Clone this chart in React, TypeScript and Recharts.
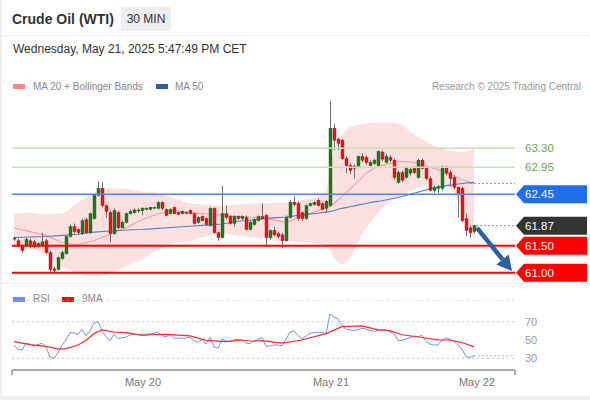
import React from 'react';
import { ComposedChart, Bar, Line, Area, XAxis, YAxis, ReferenceLine, CartesianGrid } from 'recharts';

// ---- Candles (30 min bars) ----
const opens = [
  61.63, 61.59, 61.50, 61.50, 61.59, 61.57, 61.50, 61.50, 61.59, 61.37,
  61.07, 61.06, 61.26, 61.35, 61.67, 61.85, 61.80, 61.72, 61.98, 61.74,
  62.00, 62.43, 62.56, 62.24, 62.11, 61.72, 62.11, 61.83, 61.93, 62.09,
  62.11, 62.15, 62.15, 62.18, 62.17, 62.20, 62.19, 62.30, 62.17, 62.09,
  62.21, 62.11, 62.09, 62.11, 62.15, 62.09, 61.93, 62.04, 62.00, 61.87,
  62.19, 61.74, 61.65, 62.09, 62.04, 61.91, 62.04, 62.00, 62.02, 61.80,
  61.89, 61.96, 62.04, 62.06, 61.65, 61.78, 61.72, 61.70, 61.59, 62.02,
  62.30, 62.28, 62.11, 62.00, 62.24, 62.26, 62.34, 62.28, 62.19, 62.24,
  63.67, 63.47, 63.45, 63.11, 62.98, 62.97, 62.97, 63.15, 63.13, 62.98,
  63.02, 62.98, 63.23, 63.04, 63.13, 63.08, 62.67, 62.85, 62.76, 62.84,
  62.93, 62.76, 63.08, 62.93, 62.74, 62.52, 62.56, 62.56, 62.95, 62.85,
  62.76, 62.58, 62.56, 62.00, 61.83, 61.76,
];
const closes = [
  61.64, 61.50, 61.41, 61.61, 61.52, 61.48, 61.54, 61.57, 61.37, 61.06,
  61.04, 61.28, 61.37, 61.67, 61.85, 61.76, 61.74, 61.96, 61.74, 62.09,
  62.43, 62.56, 62.24, 62.13, 61.72, 62.15, 61.83, 61.93, 62.09, 62.13,
  62.16, 62.16, 62.19, 62.19, 62.21, 62.21, 62.30, 62.19, 62.06, 62.17,
  62.09, 62.08, 62.13, 62.10, 62.09, 61.91, 62.02, 61.96, 61.89, 62.19,
  61.74, 61.65, 62.09, 62.02, 61.91, 62.04, 62.00, 62.04, 61.80, 61.93,
  61.98, 62.04, 62.00, 61.65, 61.78, 61.70, 61.67, 61.59, 62.02, 62.30,
  62.26, 62.00, 62.00, 62.24, 62.28, 62.30, 62.24, 62.17, 62.32, 63.67,
  63.45, 63.39, 63.11, 62.98, 62.89, 62.93, 63.15, 63.08, 63.04, 63.04,
  63.08, 63.24, 63.10, 63.15, 63.08, 62.76, 62.85, 62.71, 62.93, 62.91,
  62.85, 63.08, 62.93, 62.74, 62.52, 62.58, 62.59, 62.95, 62.84, 62.74,
  62.58, 62.47, 61.96, 61.78, 61.74, 61.87,
];
const highs = [
  61.67, 61.63, 61.52, 61.65, 61.63, 61.61, 61.56, 61.74, 61.63, 61.41,
  61.11, 61.30, 61.41, 61.69, 61.89, 61.91, 61.82, 62.00, 62.02, 62.11,
  62.45, 62.69, 62.67, 62.26, 62.15, 62.19, 62.15, 61.96, 62.11, 62.17,
  62.19, 62.19, 62.21, 62.21, 62.22, 62.22, 62.32, 62.32, 62.19, 62.19,
  62.22, 62.13, 62.15, 62.13, 62.17, 62.11, 62.04, 62.06, 62.02, 62.21,
  62.21, 61.76, 62.61, 62.24, 62.06, 62.06, 62.06, 62.06, 62.06, 61.96,
  62.00, 62.06, 62.28, 62.09, 61.80, 61.85, 61.76, 61.74, 62.06, 62.34,
  62.41, 62.32, 62.13, 62.26, 62.30, 62.32, 62.37, 62.30, 62.35, 64.17,
  63.75, 63.50, 63.47, 63.15, 63.02, 63.00, 63.17, 63.21, 63.17, 63.08,
  63.11, 63.26, 63.26, 63.19, 63.17, 63.11, 62.89, 62.89, 62.97, 62.95,
  62.97, 63.11, 63.11, 62.97, 62.78, 62.61, 62.63, 62.98, 62.98, 62.89,
  62.80, 62.59, 62.59, 62.09, 61.87, 61.89,
];
const lows = [
  61.59, 61.48, 61.37, 61.48, 61.45, 61.45, 61.46, 61.48, 61.35, 61.02,
  61.00, 61.04, 61.24, 61.33, 61.65, 61.72, 61.70, 61.70, 61.72, 61.72,
  61.98, 62.41, 62.21, 62.02, 61.56, 61.70, 61.80, 61.82, 61.91, 62.08,
  62.09, 62.11, 62.06, 62.15, 62.15, 62.19, 62.17, 62.15, 62.04, 62.08,
  62.08, 62.06, 62.08, 62.09, 62.08, 61.89, 61.91, 61.95, 61.87, 61.85,
  61.72, 61.59, 61.63, 61.98, 61.89, 61.85, 61.98, 61.98, 61.78, 61.78,
  61.87, 61.95, 61.98, 61.50, 61.61, 61.67, 61.63, 61.46, 61.57, 62.00,
  62.22, 61.96, 61.96, 61.98, 62.22, 62.24, 62.22, 62.15, 62.11, 62.22,
  63.26, 63.26, 63.08, 62.84, 62.82, 62.74, 62.95, 63.04, 63.00, 62.97,
  63.00, 62.97, 63.06, 63.02, 63.04, 62.72, 62.65, 62.67, 62.74, 62.80,
  62.82, 62.74, 62.91, 62.71, 62.50, 62.48, 62.47, 62.52, 62.80, 62.59,
  62.54, 62.02, 61.93, 61.67, 61.65, 61.72,
];

// ---- Indicators read at selected bars ----
const indIdx = [0, 4, 8, 12, 16, 20, 24, 28, 32, 36, 40, 44, 48, 52, 56, 60, 64, 68, 72, 76, 78, 79, 80, 82, 84, 86, 88, 90, 92, 96, 100, 104, 108, 112, 115];
const ma20 = [61.83, 61.76, 61.69, 61.56, 61.52, 61.59, 61.71, 61.83, 61.98, 62.09, 62.15, 62.11, 62.09, 62.06, 62.04, 62.02, 61.99, 61.93, 62.04, 62.15, 62.20, 62.23, 62.28, 62.41, 62.55, 62.69, 62.84, 62.93, 62.98, 63.06, 63.04, 62.95, 62.86, 62.72, 62.65];
const ma50 = [61.65, 61.66, 61.67, 61.69, 61.71, 61.75, 61.77, 61.79, 61.80, 61.82, 61.84, 61.86, 61.88, 61.90, 61.95, 61.98, 62.01, 62.03, 62.07, 62.10, 62.12, 62.13, 62.15, 62.19, 62.22, 62.25, 62.28, 62.31, 62.33, 62.39, 62.47, 62.55, 62.61, 62.65, 62.67];
const bbUpper = [62.09, 62.11, 62.08, 62.10, 62.30, 62.48, 62.56, 62.55, 62.50, 62.47, 62.38, 62.28, 62.26, 62.24, 62.26, 62.28, 62.29, 62.30, 62.35, 62.41, 62.52, 62.89, 63.26, 63.54, 63.69, 63.73, 63.76, 63.77, 63.78, 63.76, 63.56, 63.39, 63.27, 63.23, 63.30];
const bbLower = [61.54, 61.46, 61.32, 61.11, 60.99, 60.93, 60.98, 61.12, 61.24, 61.42, 61.55, 61.59, 61.67, 61.72, 61.69, 61.65, 61.62, 61.59, 61.57, 61.54, 61.46, 61.41, 61.28, 61.16, 61.26, 61.57, 61.82, 62.01, 62.19, 62.40, 62.54, 62.63, 62.61, 62.15, 61.59];

const rsi = [
  44, 40, 39, 46.4, 45.5, 43, 45, 46.2, 42.5, 31,
  30, 36, 44, 50, 58, 58, 56, 61.7, 54.7, 60,
  68.7, 70, 59.5, 53.7, 49, 56, 51.5, 52.5, 53, 55.5,
  56.1, 56.2, 56.2, 56.3, 56.7, 57.3, 58.7, 54.7, 53.6, 56,
  51.8, 52.2, 51.9, 52, 53.2, 49, 47.5, 50.5, 45.5, 53,
  42.5, 41, 51, 49, 48.5, 50.2, 50.8, 49.5, 46.5, 46.2,
  49, 50.5, 52.6, 43, 43.5, 44.5, 44.5, 43.6, 51, 58.5,
  60, 55, 51.3, 54, 57.5, 58, 58.6, 58, 56.8, 78.4,
  75, 73, 66, 62, 61, 60.2, 61.2, 62.6, 62, 60.5,
  59.4, 60.5, 61.5, 61, 59, 57, 49.5, 49.5, 51, 52.6,
  54.4, 53.6, 55, 48.5, 45.5, 44.5, 44.5, 50, 52.5, 50.5,
  48.5, 44.3, 40, 31.8, 31, 32.8,
];
const ma9Idx = [0, 4, 7, 9, 11, 13, 16, 18, 20, 22, 25, 28, 32, 35, 38, 44, 48, 53, 57, 60, 62, 67, 72, 78, 82, 87, 91, 94, 97, 102, 106, 109, 112, 115];
const ma9 = [48.2, 45, 43.6, 42.2, 40, 40.5, 44.5, 49.5, 57, 61, 58.7, 58.1, 55, 56, 56.2, 54.5, 49.6, 48.2, 50, 48.6, 49.2, 46.5, 50, 57, 64.5, 65.5, 61, 60.2, 55.7, 52.7, 50.2, 50, 47.2, 42.5];

// ---- Levels and labels ----
const resistances = [63.30, 62.95];
const pivot = 62.45;
const supports = [61.50, 61.00];
const rsiLevels = [30, 50, 70];
const dateTickPos = [32.25, 79.25, 115.75];
const dateTickLabels = ['May 20', 'May 21', 'May 22'];
const arrowFrom = { x: 115.75, y: 61.83 };
const arrowTo = { x: 124.5, y: 61.03 };

const xDomain: [number, number] = [-0.5, 125.25];
const priceDomain: [number, number] = [60.773, 64.285];
const rsiDomain: [number, number] = [17.2, 93.7];

const rows = opens.map((o, i) => ({
  i, o, h: highs[i], l: lows[i], c: closes[i], range: [lows[i], highs[i]],
  rsi: rsi[i], ma9: null as number | null,
}));
ma9Idx.forEach((k, j) => { rows[k].ma9 = ma9[j]; });
const indRows = indIdx.map((k, j) => ({ i: k, ma20: ma20[j], ma50: ma50[j], band: [bbLower[j], bbUpper[j]] }));

const lastClose = closes[closes.length - 1];
const lastMa20 = ma20[ma20.length - 1];
const lastRsi = rsi[rsi.length - 1];
const lastIdx = opens.length - 1;

const Candle = (props: any) => {
  const { x, y, width, height, payload } = props;
  if (!payload || height == null) return null;
  const top = Math.min(y, y + height);
  const h = Math.abs(height);
  const k = h / (payload.h - payload.l || 1);
  const yO = top + (payload.h - payload.o) * k;
  const yC = top + (payload.h - payload.c) * k;
  const up = payload.c >= payload.o;
  const cx = Math.round(x + width / 2) + 0.5;
  return (
    <g>
      <line x1={cx} x2={cx} y1={top} y2={top + h} stroke="#6e6e6e" strokeWidth={1} />
      <rect x={cx - 1.5} y={Math.min(yO, yC)} width={3} height={Math.max(1, Math.abs(yC - yO))}
        fill={up ? '#1d7a1d' : '#e8141b'} stroke={up ? '#145c14' : '#b01015'} strokeWidth={0.4} />
    </g>
  );
};

const Tag = (props: any) => {
  const { viewBox, text, bg, color } = props;
  if (!viewBox) return null;
  const tip = viewBox.x + viewBox.width + 1;
  const y = viewBox.y;
  return (
    <g>
      {bg ? <path d={`M${tip},${y} L${tip + 8},${y - 9} L${tip + 71},${y - 9} L${tip + 71},${y + 9} L${tip + 8},${y + 9} Z`} fill={bg} /> : null}
      <text x={tip + 9} y={y} dy="0.36em" fill={color} fontSize={11.5}>{text}</text>
    </g>
  );
};

const Arrow = (p: any) => {
  const { x1, y1, x2, y2 } = p;
  if ([x1, y1, x2, y2].some((v) => v == null || isNaN(v))) return null;
  const ang = Math.atan2(y2 - y1, x2 - x1);
  const L = 15, W = 8;
  const bx = x2 - L * Math.cos(ang), by = y2 - L * Math.sin(ang);
  const nx = -Math.sin(ang), ny = Math.cos(ang);
  return (
    <g>
      <line x1={x1} y1={y1} x2={bx} y2={by} stroke="#2d5ea3" strokeWidth={4.5} />
      <path d={`M${x2},${y2} L${bx + nx * W},${by + ny * W} L${bx - nx * W},${by - ny * W} Z`} fill="#2d5ea3" />
    </g>
  );
};

const DateTick = (props: any) => {
  const { x, y, payload } = props;
  const k = dateTickPos.indexOf(payload.value);
  if (k < 0) return <line x1={x} x2={x} y1={y - 8} y2={y - 3} stroke="#aaa" strokeWidth={2} />;
  return <text x={x} y={y} dy="0.71em" textAnchor="middle" fontSize={11} fill="#777">{dateTickLabels[k]}</text>;
};

const fmt = (v: number) => v.toFixed(2);

const legendText: React.CSSProperties = { position: 'absolute', fontSize: 10, lineHeight: '12px', color: '#888', whiteSpace: 'nowrap' };
const sw = (left: number, top: number, color: string): React.CSSProperties => ({ position: 'absolute', left, top, width: 12, height: 5, background: color });

export default function App() {
  return (
    <div style={{ position: 'absolute', left: 0, top: 0, width: 590, height: 400, background: '#efefef', overflow: 'hidden', fontFamily: "'Liberation Sans', Arial, sans-serif" }}>
      <div style={{ position: 'absolute', left: 2, top: 0, width: 588, height: 396, background: '#fff' }} />
      <div style={{ position: 'absolute', left: 2, top: 35, width: 588, height: 1, background: '#f0f0f0' }} />
      <div style={{ position: 'absolute', left: 12, top: 11, fontSize: 14, lineHeight: '16px', fontWeight: 'bold', color: '#333', whiteSpace: 'nowrap' }}>Crude Oil (WTI)</div>
      <div style={{ position: 'absolute', left: 121, top: 7, width: 50, height: 24, lineHeight: '24px', background: '#eeeeee', fontSize: 12, color: '#333', textAlign: 'center' }}>30 MIN</div>
      <div style={{ position: 'absolute', left: 13, top: 42, fontSize: 12, lineHeight: '14px', color: '#333', whiteSpace: 'nowrap' }}>Wednesday, May 21, 2025 5:47:49 PM CET</div>

      <div style={sw(13, 84, '#ff8585')} />
      <div style={{ ...legendText, left: 33, top: 81 }}>MA 20 + Bollinger Bands</div>
      <div style={sw(156, 84, '#2f5f9f')} />
      <div style={{ ...legendText, left: 175, top: 81 }}>MA 50</div>
      <div style={{ ...legendText, right: 9, top: 81, color: '#999' }}>Research © 2025 Trading Central</div>

      <div style={{ position: 'absolute', left: 2, top: 283, width: 588, height: 0, borderTop: '1px dotted #dddddd' }} />

      <div style={{ position: 'absolute', left: 0, top: 95 }}>
        <ComposedChart width={590} height={190} data={indRows} margin={{ top: 0, right: 75, bottom: 0, left: 12 }}>
          <XAxis type="number" dataKey="i" domain={xDomain} hide allowDataOverflow />
          <YAxis domain={priceDomain} hide allowDataOverflow />
          <Area dataKey="band" type="monotone" stroke="none" fill="#fde1e1" fillOpacity={1} isAnimationActive={false} />
          <Line dataKey="ma20" stroke="#f5a0a0" strokeWidth={1.1} dot={false} isAnimationActive={false} />
          <Line dataKey="ma50" stroke="#5a7fbf" strokeWidth={1.1} dot={false} isAnimationActive={false} />
        </ComposedChart>
      </div>

      <div style={{ position: 'absolute', left: 0, top: 95 }}>
        <ComposedChart width={590} height={190} data={rows} margin={{ top: 0, right: 75, bottom: 0, left: 12 }}>
          <XAxis type="number" dataKey="i" domain={xDomain} hide allowDataOverflow />
          <YAxis domain={priceDomain} hide allowDataOverflow />
          <Bar dataKey="range" shape={Candle} barSize={3} isAnimationActive={false} />
          {resistances.map((v) => (
            <ReferenceLine key={v} y={v} stroke="#c8e0b6" strokeWidth={1.5}
              label={<Tag text={fmt(v)} color="#6aa84f" />} />
          ))}
          <ReferenceLine y={pivot} stroke="#4f86ee" strokeWidth={1.5} label={<Tag text={fmt(pivot)} bg="#1f6feb" color="#fff" />} />
          {supports.map((v) => (
            <ReferenceLine key={v} y={v} stroke="#ff0000" strokeWidth={2}
              label={<Tag text={fmt(v)} bg="#ff0000" color="#fff" />} />
          ))}
          <ReferenceLine segment={[{ x: lastIdx - 1, y: lastMa20 }, { x: xDomain[1], y: lastMa20 }]} stroke="#999" strokeDasharray="2 2" />
          <ReferenceLine segment={[{ x: lastIdx + 0.5, y: lastClose }, { x: xDomain[1], y: lastClose }]} stroke="#999" strokeDasharray="2 2"
            label={<Tag text={fmt(lastClose)} bg="#333333" color="#fff" />} />
          <ReferenceLine segment={[arrowFrom, arrowTo]} shape={Arrow} />
        </ComposedChart>
      </div>

      <div style={sw(13, 297, '#6f8fe8')} />
      <div style={{ ...legendText, left: 33, top: 293 }}>RSI</div>
      <div style={sw(62, 297, '#ff0000')} />
      <div style={{ ...legendText, left: 82, top: 293 }}>9MA</div>

      <div style={{ position: 'absolute', left: 0, top: 300 }}>
        <ComposedChart width={590} height={95} data={rows} margin={{ top: 0, right: 0, bottom: 0, left: 12 }}>
          <CartesianGrid vertical={false} strokeDasharray="2 3" stroke="#c4c4c4" />
          <XAxis type="number" dataKey="i" domain={xDomain} allowDataOverflow ticks={[xDomain[0], ...dateTickPos, xDomain[1]]} interval={0}
            axisLine={{ stroke: '#aaa', strokeWidth: 2 }} tickLine={false} tick={<DateTick />} height={25} />
          <YAxis orientation="right" domain={rsiDomain} ticks={rsiLevels} axisLine={false} tickLine={false} width={75}
            tick={{ fontSize: 11, fill: '#999', dx: 2 }} allowDataOverflow />
          <Line dataKey="rsi" stroke="#7393ea" strokeWidth={1} dot={false} isAnimationActive={false} />
          <Line dataKey="ma9" stroke="#ff2a2a" strokeWidth={1.2} dot={false} connectNulls isAnimationActive={false} />
          <ReferenceLine segment={[{ x: lastIdx, y: lastRsi }, { x: xDomain[1], y: lastRsi }]} stroke="#a9baf0" strokeDasharray="2 2" />
        </ComposedChart>
      </div>
    </div>
  );
}
